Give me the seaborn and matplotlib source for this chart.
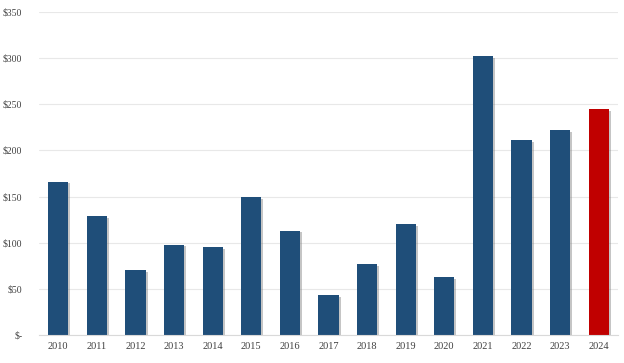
import pandas as pd
import seaborn as sns
import matplotlib.pyplot as plt
import matplotlib.patheffects as pe
from matplotlib.ticker import FuncFormatter

years = [str(y) for y in range(2010, 2025)]
values = [166, 129, 70, 98, 95, 149, 113, 43, 77, 120, 63, 302, 211, 222, 245]
bar_colors = ["#1F4E79"] * 14 + ["#C00000"]
y_ticks = [0, 50, 100, 150, 200, 250, 300, 350]

df = pd.DataFrame({"year": years, "value": values})

sns.set_style("white")
plt.rcParams["font.family"] = ["Liberation Serif", "DejaVu Serif"]

fig = plt.figure(figsize=(6.24, 3.63), dpi=100)
ax = fig.add_axes([39 / 624, 28 / 363, 579 / 624, 323 / 363])

sns.barplot(data=df, x="year", y="value", hue="year", palette=bar_colors,
            legend=False, width=0.52, ax=ax, saturation=1, linewidth=0)

# soft drop shadow like the office-style chart
for p in ax.patches:
    p.set_path_effects([
        pe.SimplePatchShadow(offset=(1.5, -1.2), shadow_rgbFace="#7f7f7f", alpha=0.45),
        pe.Normal(),
    ])

ax.set_ylim(0, 350)
ax.set_yticks(y_ticks)
ax.yaxis.set_major_formatter(FuncFormatter(lambda v, _: "$-" if v == 0 else f"${v:.0f}"))
ax.grid(axis="y", color="#E8E8E8", linewidth=0.8)
ax.set_axisbelow(True)
for s in ["top", "right", "left"]:
    ax.spines[s].set_visible(False)
ax.spines["bottom"].set_color("#D9D9D9")
ax.tick_params(axis="y", length=0, pad=12, labelsize=7, labelcolor="#404040")
ax.tick_params(axis="x", length=0, pad=5, labelsize=7.5, labelcolor="#404040")
ax.set_xlabel("")
ax.set_ylabel("")

fig.savefig("out.png", dpi=100)
